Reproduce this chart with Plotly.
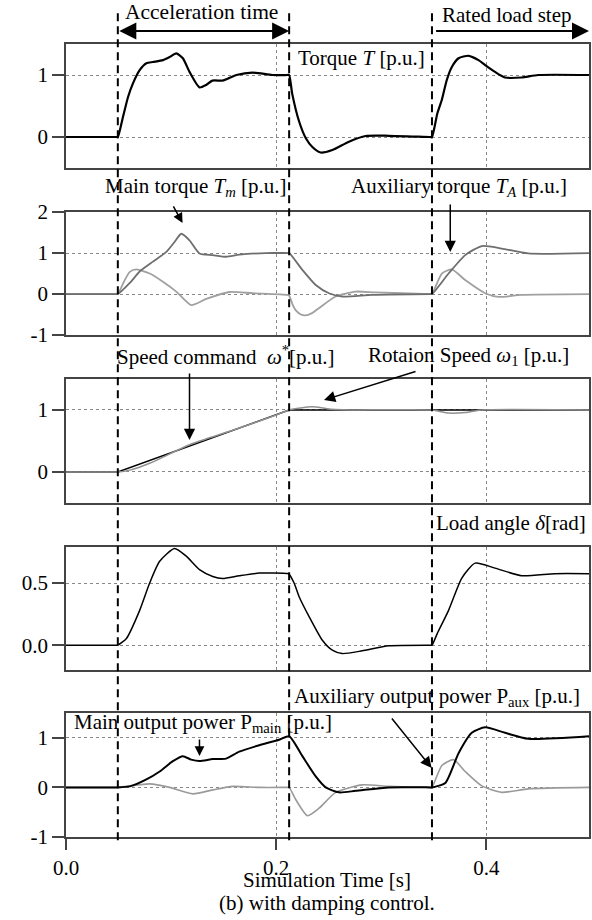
import plotly.graph_objects as go
from plotly.subplots import make_subplots

# ---------------- data ----------------
# Panel 1: Torque T
t_T = [0, 0.048, 0.0493, 0.0543, 0.0591, 0.0638, 0.0701, 0.0765, 0.0827, 0.0922, 0.0986, 0.1049, 0.1112,
       0.1175, 0.127, 0.1334, 0.1393, 0.1488, 0.155, 0.1621, 0.1773, 0.1962, 0.2105, 0.2123, 0.2152, 0.2218,
       0.2282, 0.2344, 0.2424, 0.2534, 0.2692, 0.285, 0.3071, 0.3465, 0.3482, 0.3533, 0.3576, 0.3623, 0.3671,
       0.3735, 0.383, 0.3925, 0.3988, 0.4082, 0.4177, 0.4335, 0.4493, 0.4976]
v_T = [0, 0, 0, 0.33, 0.65, 0.87, 1.08, 1.19, 1.21, 1.24, 1.29, 1.35, 1.27,
       1.05, 0.80, 0.84, 0.91, 0.91, 0.95, 1.0, 1.04, 1.0, 1.0, 1.0, 0.7, 0.25,
       -0.02, -0.16, -0.25, -0.21, -0.075, 0.016, 0.02, 0.0, 0.0, 0.38, 0.6, 0.92, 1.13,
       1.27, 1.31, 1.24, 1.16, 1.05, 0.96, 0.96, 1.0, 1.0]

# Panel 2: Main torque Tm and auxiliary torque TA
t_Tm = [0, 0.048, 0.0493, 0.0607, 0.0701, 0.0827, 0.0955, 0.1033, 0.1097, 0.1175, 0.127, 0.1396, 0.1523,
        0.1649, 0.1902, 0.2105, 0.2123, 0.2249, 0.2376, 0.2502, 0.2628, 0.2913, 0.3465, 0.3482, 0.364, 0.3798,
        0.3956, 0.4145, 0.4398, 0.4976]
v_Tm = [0, 0, 0, 0.27, 0.55, 0.79, 1.03, 1.27, 1.47, 1.31, 0.99, 0.95, 0.91,
        0.96, 1.0, 1.0, 1.0, 0.59, 0.22, 0.02, -0.06, -0.02, 0.0, 0.0, 0.5, 0.95,
        1.17, 1.11, 0.99, 1.0]
t_TA = [0, 0.048, 0.0493, 0.0559, 0.0607, 0.067, 0.0796, 0.0922, 0.1049, 0.1191, 0.1334, 0.1555, 0.1775,
        0.2107, 0.2123, 0.2155, 0.2187, 0.2235, 0.2282, 0.2345, 0.2408, 0.2566, 0.2755, 0.2945, 0.3465,
        0.3482, 0.3576, 0.3671, 0.3798, 0.3988, 0.4114, 0.4335, 0.4976]
v_TA = [0, 0, 0, 0.34, 0.54, 0.6, 0.5, 0.3, 0.06, -0.27, -0.12, 0.05, 0.02,
        -0.02, -0.04, -0.25, -0.40, -0.50, -0.52, -0.46, -0.34, -0.06, 0.06, 0.04, 0.0,
        0.0, 0.5, 0.6, 0.34, 0.02, -0.07, -0.02, 0.0]

# Panel 3: Speed command and rotation speed
t_cmd = [0, 0.0493, 0.2123, 0.4976]
v_cmd = [0, 0, 1, 1]
t_w1 = [0, 0.048, 0.0493, 0.0607, 0.0796, 0.1175, 0.16, 0.2, 0.2123, 0.234, 0.253, 0.27, 0.348, 0.364,
        0.38, 0.395, 0.4976]
v_w1 = [0, 0, 0, 0.03, 0.14, 0.44, 0.68, 0.92, 1.0, 1.05, 1.01, 1.0, 1.0, 0.95,
        0.96, 1.0, 1.0]

# Panel 4: Load angle delta
t_d = [0, 0.048, 0.0493, 0.0575, 0.0701, 0.0796, 0.0891, 0.1033, 0.1144, 0.127, 0.1396, 0.149, 0.1649,
       0.1839, 0.2107, 0.2123, 0.217, 0.2218, 0.2313, 0.2439, 0.2534, 0.2628, 0.2818, 0.3071,
       0.3465, 0.3482, 0.3533, 0.364, 0.3766, 0.3893, 0.4082, 0.4335, 0.4651, 0.4976]
v_d = [0, 0, 0, 0.054, 0.28, 0.5, 0.675, 0.778, 0.716, 0.608, 0.553, 0.537, 0.559,
       0.58, 0.576, 0.57, 0.5, 0.39, 0.23, 0.04, -0.04, -0.068, -0.046, -0.005,
       0.0, 0.0, 0.095, 0.28, 0.54, 0.66, 0.62, 0.559, 0.575, 0.575]

# Panel 5: Main output power and auxiliary output power
t_Pm = [0, 0.048, 0.0493, 0.0607, 0.0765, 0.0891, 0.1017, 0.1112, 0.1191, 0.127, 0.1396, 0.1523, 0.1649,
        0.1839, 0.2028, 0.2123, 0.2249, 0.2376, 0.2471, 0.2597, 0.2755, 0.3071, 0.3465, 0.3482, 0.3609,
        0.3735, 0.3861, 0.3988, 0.4177, 0.4398, 0.4976]
v_Pm = [0, 0, 0, 0.02, 0.16, 0.32, 0.53, 0.63, 0.56, 0.53, 0.57, 0.58, 0.72,
        0.85, 0.96, 1.03, 0.63, 0.22, 0.0, -0.1, -0.07, 0.0, 0.0, 0.0, 0.09,
        0.69, 1.1, 1.21, 1.1, 0.98, 1.03]
t_Pa = [0, 0.048, 0.0493, 0.0796, 0.0986, 0.1207, 0.1396, 0.1586, 0.1839, 0.2105, 0.2123, 0.2187, 0.2297,
        0.2408, 0.2566, 0.2818, 0.3071, 0.3465, 0.3482, 0.3576, 0.3687, 0.3798, 0.3956, 0.4145, 0.4398,
        0.4976]
v_Pa = [0, 0, 0, 0.07, 0.0, -0.13, -0.05, 0.02, 0.0, 0.0, 0.0, -0.25, -0.57,
        -0.42, -0.1, 0.05, 0.02, 0.0, 0.0, 0.44, 0.56, 0.32, 0.03, -0.1, -0.03,
        0.0]

event_times = [0.0493, 0.2123, 0.3482]

y_ranges = [[-0.5, 1.5], [-1, 2], [-0.5, 1.5], [-0.2, 0.79], [-1, 1.5]]
y_ticks = [[0, 1], [-1, 0, 1, 2], [0, 1], [0, 0.5], [-1, 0, 1]]
y_ticktext = [["0", "1"], ["-1", "0", "1", "2"], ["0", "1"], ["0.0", "0.5"], ["-1", "0", "1"]]
x_ticks = [0, 0.2, 0.4]
x_ticktext = ["0.0", "0.2", "0.4"]

# ---------------- figure ----------------
FONT = "Liberation Serif, Times New Roman, serif"
domains = [[0.8436, 1.0], [0.6330, 0.7881], [0.4212, 0.5776], [0.2106, 0.3657], [0.0, 0.1564]]

fig = make_subplots(rows=5, cols=1, shared_xaxes=True)

def line(t, v, color, width, row, shape="spline"):
    fig.add_trace(go.Scatter(x=t, y=v, mode="lines", showlegend=False,
                             line=dict(color=color, width=width, shape=shape, smoothing=0.6)),
                  row=row, col=1)

line(t_T, v_T, "black", 2.2, 1)
line(t_TA, v_TA, "#a0a0a0", 1.8, 2)
line(t_Tm, v_Tm, "#6e6e6e", 1.8, 2)
line(t_cmd, v_cmd, "black", 1.5, 3, shape="linear")
line(t_w1, v_w1, "#909090", 1.5, 3)
line(t_d, v_d, "black", 1.5, 4)
line(t_Pa, v_Pa, "#9a9a9a", 1.6, 5)
line(t_Pm, v_Pm, "black", 2.0, 5)

for i in range(5):
    xa = "xaxis" if i == 0 else f"xaxis{i+1}"
    ya = "yaxis" if i == 0 else f"yaxis{i+1}"
    fig.layout[xa].update(range=[0, 0.4976], showline=True, mirror=True, linecolor="#444",
                          linewidth=1.5, showgrid=True, gridcolor="#888", griddash="dot",
                          gridwidth=1, zeroline=False, tickvals=x_ticks, ticktext=x_ticktext,
                          ticks="outside" if i == 4 else "", ticklen=11, tickcolor="#444",
                          tickwidth=1.5, showticklabels=(i == 4), tickfont=dict(size=21))
    fig.layout[ya].update(domain=domains[i], range=y_ranges[i], showline=True, mirror=True,
                          linecolor="#444", linewidth=1.5, showgrid=True, gridcolor="#888",
                          griddash="dot", gridwidth=1, zeroline=False, tickvals=y_ticks[i],
                          ticktext=y_ticktext[i], ticks="outside", ticklen=12, tickcolor="#444",
                          tickwidth=1.5, tickfont=dict(size=21))

# dashed event lines
for te in event_times:
    fig.add_shape(type="line", xref="x5", yref="paper", x0=te, x1=te, y0=-0.004, y1=1.039,
                  line=dict(color="black", width=2, dash="8px,5px"))

def label(text, x, y, xanchor="left", size=21):
    fig.add_annotation(text=text, x=x, y=y, xref="x5", yref="paper", showarrow=False,
                       xanchor=xanchor, yanchor="middle", font=dict(size=size, family=FONT, color="black"))

def arrow(x, y, ax, ay, head=2, width=1.5, size=1.5):
    fig.add_annotation(text="", x=x, y=y, xref="x5", yref="paper", ax=ax, ay=ay, showarrow=True,
                       arrowhead=head, arrowwidth=width, arrowsize=size, arrowcolor="black")

# top annotations
label("Acceleration time", 0.129, 1.0404, xanchor="center", size=21.5)
fig.add_annotation(text="", x=0.2123, y=1.0164, xref="x5", yref="paper", axref="x5", ayref="pixel",
                   ax=0.0493, ay=0, showarrow=True, arrowside="end+start", arrowhead=2,
                   startarrowhead=2, arrowwidth=2, arrowsize=1.7, startarrowsize=1.7,
                   arrowcolor="black")
label("Rated load step", 0.419, 1.0366, xanchor="center", size=21)
fig.add_annotation(text="", x=0.4976, y=1.0164, xref="x5", yref="paper", axref="x5", ayref="pixel",
                   ax=0.3507, ay=0, showarrow=True, arrowhead=2, arrowwidth=2, arrowsize=1.7,
                   arrowcolor="black")

label("Torque <i>T</i> [p.u.]", 0.219, 0.9823)
label("Main torque <i>T<sub>m</sub></i> [p.u.]", 0.035, 0.8203)
arrow(0.1109, 0.7743, -10, -18, size=1.3)
label("Auxiliary torque <i>T<sub>A</sub></i> [p.u.]", 0.2692, 0.8197)
arrow(0.3656, 0.7377, 0, -49)
label("Speed command  <i>ω</i><sup>*</sup>[p.u.]", 0.0464, 0.6078)
arrow(0.1175, 0.5006, 0, -68)
label("Rotaion Speed <i>ω</i><sub>1</sub> [p.u.]", 0.2853, 0.6066)
arrow(0.2455, 0.5511, 93, -29)
label("Load angle <i>δ</i>[rad]", 0.3498, 0.396)
label("Main output power P<sub>main</sub> [p.u.]", 0.0057, 0.1438)
arrow(0.127, 0.1021, 0, -18, size=1.3)
label("Auxiliary output power P<sub>aux</sub> [p.u.]", 0.2152, 0.1765)
arrow(0.3479, 0.087, -41, -51)

label("Simulation Time [s]", 0.2485, -0.0542, xanchor="center")
label("(b) with damping control.", 0.2485, -0.0832, xanchor="center")

fig.update_layout(width=592, height=920, margin=dict(l=66, r=1, t=44, b=83),
                  plot_bgcolor="white", paper_bgcolor="white",
                  font=dict(family=FONT, size=21, color="black"), showlegend=False)

fig.write_html("out.html", config={"displayModeBar": False},
               post_script="document.body.style.margin='0';document.body.style.overflow='hidden';")
